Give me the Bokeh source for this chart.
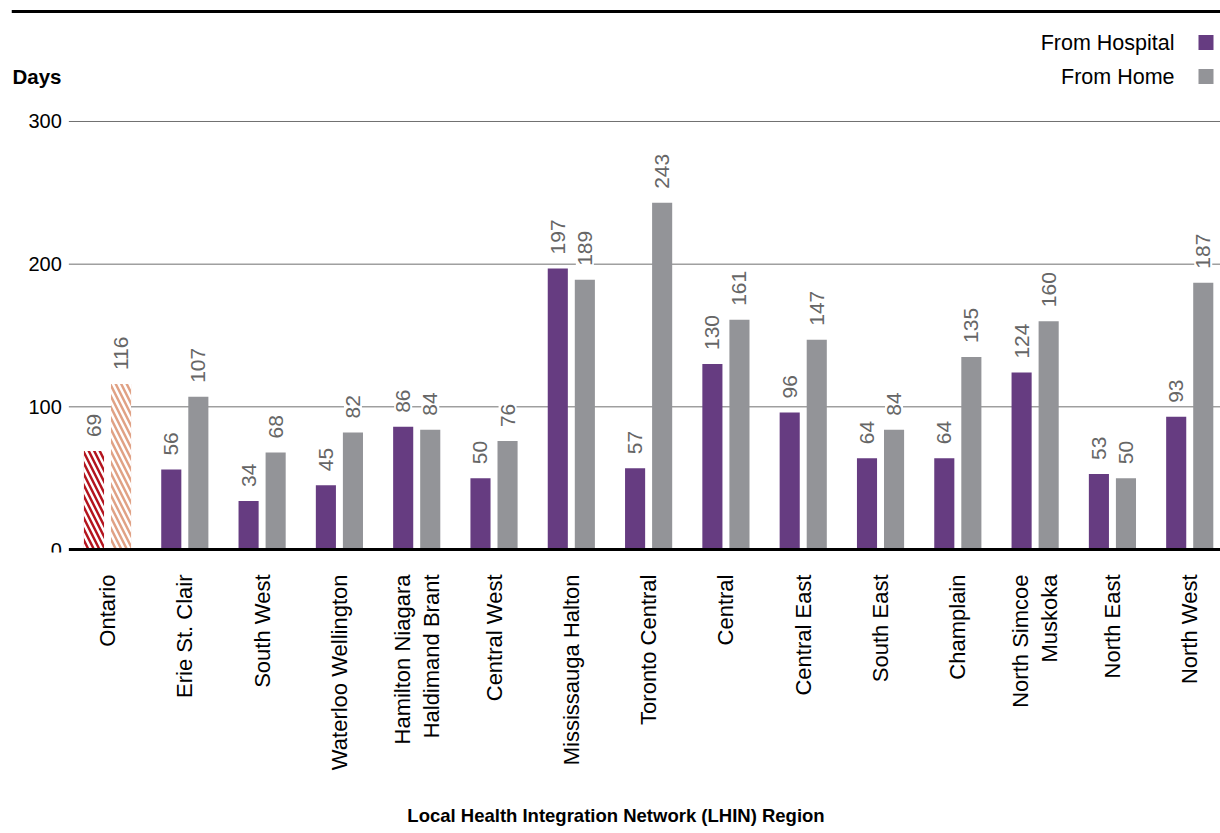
from math import pi
from bokeh.plotting import figure
from bokeh.models import ColumnDataSource, Range1d, FixedTicker, Span
from bokeh.transform import dodge
from bokeh.core.properties import value
from bokeh.embed import file_html
from bokeh.resources import INLINE

# ---- data ----
regions = ["Ontario", "Erie St. Clair", "South West", "Waterloo Wellington",
           "Hamilton Niagara\nHaldimand Brant", "Central West", "Mississauga Halton",
           "Toronto Central", "Central", "Central East", "South East", "Champlain",
           "North Simcoe\nMuskoka", "North East", "North West"]
from_hospital = [69, 56, 34, 45, 86, 50, 197, 57, 130, 96, 64, 64, 124, 53, 93]
from_home = [116, 107, 68, 82, 84, 76, 189, 243, 161, 147, 84, 135, 160, 50, 187]
y_ticks = [0, 100, 200, 300]
series_names = ["From Hospital", "From Home"]

# ---- styling ----
FONT = "Liberation Sans"
PURPLE = "#663c81"
GRAY = "#939498"
ONT_HOSP = "#b3131d"
ONT_HOME = "#e0a184"
LABEL_GRAY = "#666666"

idx = list(range(len(regions)))
hosp_colors = [ONT_HOSP] + [PURPLE] * (len(regions) - 1)
home_colors = [ONT_HOME] + [GRAY] * (len(regions) - 1)
hatches = ["\\"] + [" "] * (len(regions) - 1)

src = ColumnDataSource(dict(
    x=idx, hosp=from_hospital, home=from_home,
    hosp_txt=[str(v) for v in from_hospital], home_txt=[str(v) for v in from_home],
    hc=hosp_colors, mc=home_colors, hatch=hatches,
))

FRAME_W = 1209
X0, X1 = -1.242, 14.398
PXX = FRAME_W / (X1 - X0)
Y0, Y1 = -2.1, 379.2

p = figure(frame_width=FRAME_W, frame_height=544,
           x_range=Range1d(X0, X1), y_range=Range1d(Y0, Y1),
           output_backend="svg", toolbar_location=None,
           y_axis_location=None,
           min_border_left=11, min_border_right=0, min_border_top=8, min_border_bottom=0)
p.outline_line_color = None
p.xgrid.visible = False
p.ygrid.visible = False
p.background_fill_color = "white"
p.border_fill_color = "white"

# gridlines
grid_y = [t for t in y_ticks if t != 0]
p.segment(x0=[-0.5] * len(grid_y), x1=[X1] * len(grid_y), y0=grid_y, y1=grid_y,
          line_color="#707070", line_width=1)

# bars
off = 0.175
bw = 0.26
p.vbar(x=dodge("x", -off), top="hosp", width=bw, source=src, fill_color="hc",
       line_color=None, hatch_pattern="hatch", hatch_color="white",
       hatch_scale=11, hatch_weight=2.5)
p.vbar(x=dodge("x", off), top="home", width=bw, source=src, fill_color="mc",
       line_color=None, hatch_pattern="hatch", hatch_color="white",
       hatch_scale=11, hatch_weight=2.5)

# zero line
p.segment(x0=[-0.5], x1=[X1], y0=[0], y1=[0], line_color="black", line_width=3)

# value labels
for col, txt, o in (("hosp", "hosp_txt", -off), ("home", "home_txt", off)):
    p.text(x=dodge("x", o), y=col, text=txt, source=src, angle=pi / 2,
           text_align="left", text_baseline="middle", y_offset=-12,
           text_font=value(FONT), text_font_size="21px", text_color=LABEL_GRAY,
           background_fill_color="white", padding=2)

# y tick labels
p.text(x=[-0.5] * len(y_ticks), y=y_ticks, text=[str(t) for t in y_ticks],
       x_offset=-7, text_align="right", text_baseline="middle",
       text_font=value(FONT), text_font_size="20px", text_color="black")

# "Days" label
p.text(x=[X0], y=[331.5], text=["Days"], x_offset=1, text_align="left",
       text_baseline="middle", text_font=value(FONT), text_font_size="20.5px",
       text_font_style="bold", text_color="black")

# top rule
p.add_layout(Span(location=377.1, dimension="width", line_color="black", line_width=3))

# legend (text right, square at far right)
leg_y = [355.3, 331.5]
p.text(x=[X1] * 2, y=leg_y, text=series_names, x_offset=-46, text_align="right",
       text_baseline="middle", text_font=value(FONT), text_font_size="21.5px",
       text_color="black")
p.scatter(x=[X1 - 14.5 / PXX] * 2, y=leg_y, marker="square", size=15,
          fill_color=[PURPLE, GRAY], line_color=None)

# x axis
ax = p.xaxis[0]
ax.ticker = FixedTicker(ticks=idx)
ax.major_label_overrides = {i: r for i, r in enumerate(regions)}
ax.major_label_orientation = pi / 2
ax.major_label_text_font = FONT
ax.major_label_text_font_size = "22px"
ax.major_label_text_color = "black"
ax.major_label_text_line_height = 1.15
ax.major_label_standoff = 16
ax.axis_line_color = None
ax.major_tick_line_color = None
ax.minor_tick_line_color = None
ax.axis_label = "Local Health Integration Network (LHIN) Region"
ax.axis_label_text_font = FONT
ax.axis_label_text_font_size = "18.5px"
ax.axis_label_text_font_style = "bold"
ax.axis_label_text_color = "black"
ax.axis_label_standoff = 32

open("out.html", "w").write(file_html(p, INLINE))
